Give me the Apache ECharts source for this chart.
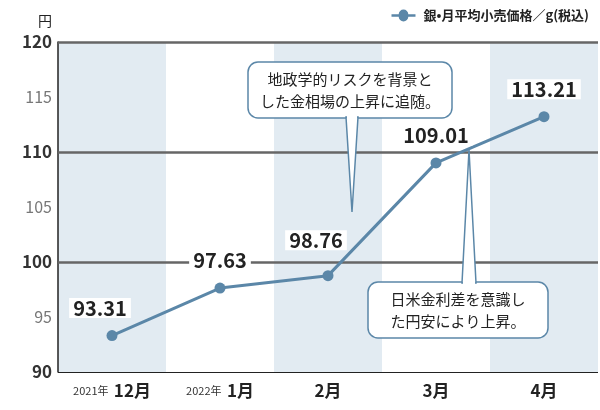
<!DOCTYPE html>
<html><head><meta charset="utf-8">
<script src="https://cdn.jsdelivr.net/npm/echarts@6/dist/echarts.min.js"></script>
<style>html,body{margin:0;padding:0;background:#fff}#c{width:600px;height:410px}</style>
</head><body><div id="c"></div>
<script>
const categories = ['12月','1月','2月','3月','4月'];
const years = ['2021年','2022年','','',''];
const prices = [93.31, 97.63, 98.76, 109.01, 113.21];
const majorTicks = [100, 110, 120];
const seriesName = '銀•月平均小売価格／g(税込)';
const FONT = '"Noto Sans CJK JP", sans-serif';
const chart = echarts.init(document.getElementById('c'));
const lineColor = '#5b87a8';
function bubble(x,y,w,h,tipX1,tipX2,tipY,up,lines){
  return [
    {type:'rect',shape:{x:x,y:y,width:w,height:h,r:10},style:{fill:'#fff',stroke:lineColor,lineWidth:1.5},z:10},
    {type:'polygon',shape:{points:up?[[tipX1,y+1],[(tipX1+tipX2)/2,tipY],[tipX2,y+1]]:[[tipX1,y+h-1],[(tipX1+tipX2)/2,tipY],[tipX2,y+h-1]]},style:{fill:'#fff',stroke:lineColor,lineWidth:1.5},z:11},
    {type:'rect',shape:up?{x:tipX1+1,y:y-1,width:tipX2-tipX1-2,height:4}:{x:tipX1+1,y:y+h-3,width:tipX2-tipX1-2,height:4},style:{fill:'#fff'},z:12},
    {type:'text',x:x+w/2,y:y+h/2,style:{text:lines,align:'center',verticalAlign:'middle',font:'15px '+FONT,fill:'#222',lineHeight:22},z:13}
  ];
}
chart.setOption({
  animation:false,
  textStyle:{fontFamily:FONT},
  grid:{left:58,right:2,top:42,bottom:38},
  legend:{top:4,right:6,data:[{name:seriesName,icon:'path://M0,4h6a4,4 0 1 1 8,0h6v2h-6a4,4 0 1 1 -8,0h-6z'}],itemWidth:30,itemHeight:12,textStyle:{fontSize:13,fontWeight:'bold',color:'#222'}},
  xAxis:{type:'category',data:categories,boundaryGap:true,
    axisLine:{show:false},axisTick:{show:false},
    splitArea:{show:true,interval:0,areaStyle:{color:['#e2ebf2','#ffffff']}},
    axisLabel:{interval:0,margin:10,formatter:(v,i)=>(years[i]?'{y|'+years[i]+'}  ':'')+'{m|'+v+'}',
      rich:{y:{fontSize:11,color:'#333'},m:{fontSize:17,fontWeight:'bold',color:'#222'}}}},
  yAxis:{type:'value',min:90,max:120,interval:5,name:'円',nameLocation:'end',nameGap:14,
    nameTextStyle:{fontSize:14,color:'#222',align:'right',padding:[0,6,0,0]},
    axisLine:{show:true,lineStyle:{color:'#222',width:1.5}},axisTick:{show:false},
    axisLabel:{margin:6,formatter:v=>v%10===0?'{b|'+v+'}':'{n|'+v+'}',
      rich:{b:{fontSize:17,fontWeight:'bold',color:'#333'},n:{fontSize:16,color:'#777'}}},
    splitLine:{show:true,lineStyle:{color:['#222','#aaa'],width:1.2}}},
  series:[{name:seriesName,type:'line',data:prices,color:lineColor,symbol:'circle',symbolSize:11,
    lineStyle:{width:3,color:lineColor},itemStyle:{color:lineColor},z:5,
    label:{show:true,position:'top',distance:12,fontSize:20,fontWeight:'bold',color:'#222',backgroundColor:'#fff',padding:[0,4],
      formatter:p=>p.value.toFixed(2)},
    labelLayout:p=>p.dataIndex===0?{dx:-12}:(p.dataIndex===2?{dx:-12,dy:-8}:{}),
    markLine:{silent:true,symbol:'none',label:{show:false},z:1,
      lineStyle:{color:'#666',width:2.5,type:'solid'},
      data:majorTicks.map(v=>({yAxis:v}))}
  }],
  graphic:[].concat(
    bubble(248,62,204,56,346,358,212,false,'地政学的リスクを背景と\nした金相場の上昇に追随。'),
    bubble(368,282,180,56,462,476,150,true,'日米金利差を意識し\nた円安により上昇。')
  )
});
</script></body></html>
